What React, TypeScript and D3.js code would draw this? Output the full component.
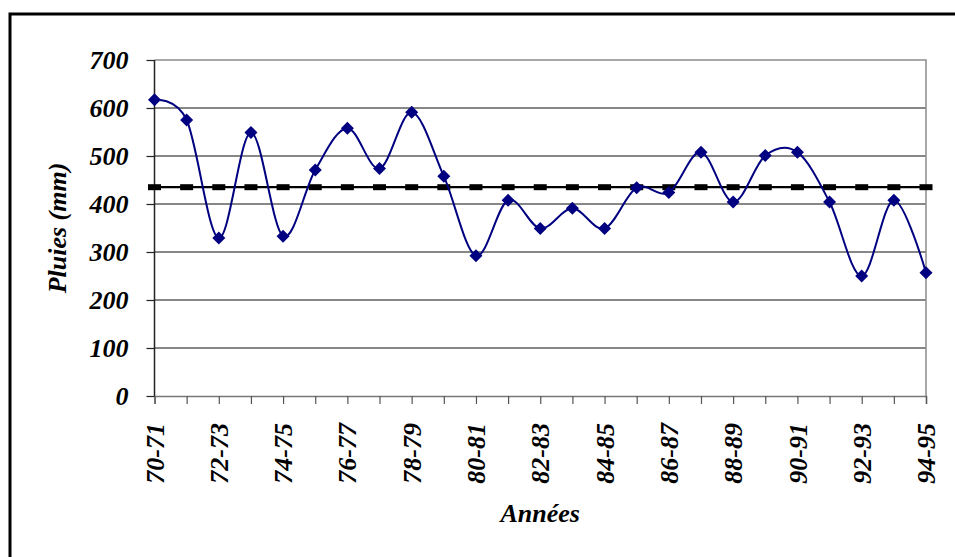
import * as d3 from "d3";
import { useEffect, useRef } from "react";

const annees = [
  "70-71", "71-72", "72-73", "73-74", "74-75", "75-76", "76-77", "77-78", "78-79",
  "79-80", "80-81", "81-82", "82-83", "83-84", "84-85", "85-86", "86-87", "87-88",
  "88-89", "89-90", "90-91", "91-92", "92-93", "93-94", "94-95",
];
const pluies = [
  617, 575, 329, 549, 333, 471, 558, 474, 591, 458, 292, 408, 349, 391, 349,
  434, 424, 508, 404, 501, 508, 404, 250, 408, 257,
];
const moyenne = 435;
const yTicks = [0, 100, 200, 300, 400, 500, 600, 700];
const xLabels = annees.filter((_, i) => i % 2 === 0);

const W = 955;
const H = 557;
const FONT = "'Liberation Serif', 'Times New Roman', serif";
const FS = 26;

export default function App() {
  const ref = useRef<SVGSVGElement>(null);

  useEffect(() => {
    if (!ref.current) return;
    const svg = d3.select(ref.current);
    svg.selectAll("*").remove();

    const margin = { top: 60, right: 29, bottom: 161, left: 154.5 };
    const width = W - margin.left - margin.right;
    const height = H - margin.top - margin.bottom;

    // outer frame
    svg.append("rect")
      .attr("x", 10).attr("y", 14)
      .attr("width", 1000).attr("height", 600)
      .attr("fill", "white")
      .attr("stroke", "black")
      .attr("stroke-width", 3);

    const x = d3.scalePoint<string>().domain(annees).range([0, width]);
    const y = d3.scaleLinear().domain([0, 700]).range([height, 0]);

    const g = svg.append("g").attr("transform", `translate(${margin.left},${margin.top})`);

    // gridlines
    g.append("g")
      .selectAll("line")
      .data(yTicks.filter(t => t > 0 && t < 700))
      .join("line")
      .attr("x1", 0).attr("x2", width)
      .attr("y1", d => y(d)).attr("y2", d => y(d))
      .attr("stroke", "#111")
      .attr("stroke-width", 1);

    // plot area border (top, right)
    g.append("path")
      .attr("d", `M0,${y(700)}H${width}V${height}`)
      .attr("fill", "none")
      .attr("stroke", "#8c8c8c")
      .attr("stroke-width", 1.5);

    // X axis
    const xAxis = g.append("g")
      .attr("transform", `translate(0,${height})`)
      .call(d3.axisBottom(x).tickSize(8).tickFormat(() => ""));
    xAxis.select(".domain").attr("stroke", "#777").attr("stroke-width", 1.5);
    xAxis.selectAll(".tick line").attr("stroke", "#555").attr("stroke-width", 1.2);

    g.append("g")
      .selectAll("text")
      .data(xLabels)
      .join("text")
      .attr("transform", d => `translate(${x(d)},${height + 27}) rotate(-90)`)
      .attr("text-anchor", "end")
      .attr("dy", "0.35em")
      .attr("font-family", FONT)
      .attr("font-weight", "bold")
      .attr("font-style", "italic")
      .attr("font-size", FS)
      .text(d => d);

    // Y axis
    const yAxis = g.append("g")
      .call(d3.axisLeft(y).tickValues(yTicks).tickSize(8).tickPadding(18).tickFormat(d3.format("d")));
    yAxis.select(".domain").attr("stroke", "#222").attr("stroke-width", 1.5).attr("d", `M0,${height}V0`);
    yAxis.selectAll(".tick line").attr("stroke", "#222").attr("stroke-width", 1.2);
    yAxis.selectAll(".tick text")
      .attr("font-family", FONT)
      .attr("font-weight", "bold")
      .attr("font-style", "italic")
      .attr("font-size", FS)
      .attr("fill", "black");

    // mean line (solid + dash markers)
    g.append("line")
      .attr("x1", -2).attr("x2", width + 6)
      .attr("y1", y(moyenne)).attr("y2", y(moyenne))
      .attr("stroke", "black")
      .attr("stroke-width", 2.2);
    g.append("g")
      .selectAll("rect")
      .data(annees)
      .join("rect")
      .attr("x", d => (x(d) ?? 0) - 6.5)
      .attr("y", y(moyenne) - 3)
      .attr("width", 13)
      .attr("height", 6)
      .attr("fill", "black");

    // rainfall line
    const pts = annees.map((a, i) => ({ a, v: pluies[i] }));
    const line = d3.line<{ a: string; v: number }>()
      .x(d => x(d.a) ?? 0)
      .y(d => y(d.v))
      .curve(d3.curveCardinal.tension(0));
    g.append("path")
      .datum(pts)
      .attr("fill", "none")
      .attr("stroke", "#000080")
      .attr("stroke-width", 2)
      .attr("d", line);

    g.append("g")
      .selectAll("path")
      .data(pts)
      .join("path")
      .attr("transform", d => `translate(${x(d.a)},${y(d.v)})`)
      .attr("d", "M0,-6.5L6.5,0L0,6.5L-6.5,0Z")
      .attr("fill", "#000080");

    // axis titles
    svg.append("text")
      .attr("transform", `translate(57,${margin.top + height / 2}) rotate(-90)`)
      .attr("text-anchor", "middle")
      .attr("dy", "0.35em")
      .attr("font-family", FONT)
      .attr("font-weight", "bold")
      .attr("font-style", "italic")
      .attr("font-size", FS)
      .text("Pluies (mm)");

    svg.append("text")
      .attr("x", margin.left + width / 2)
      .attr("y", 522)
      .attr("text-anchor", "middle")
      .attr("font-family", FONT)
      .attr("font-weight", "bold")
      .attr("font-style", "italic")
      .attr("font-size", FS)
      .text("Années");
  }, []);

  return (
    <svg
      ref={ref}
      width={W}
      height={H}
      style={{ position: "absolute", left: 0, top: 0, display: "block", background: "white" }}
    />
  );
}
